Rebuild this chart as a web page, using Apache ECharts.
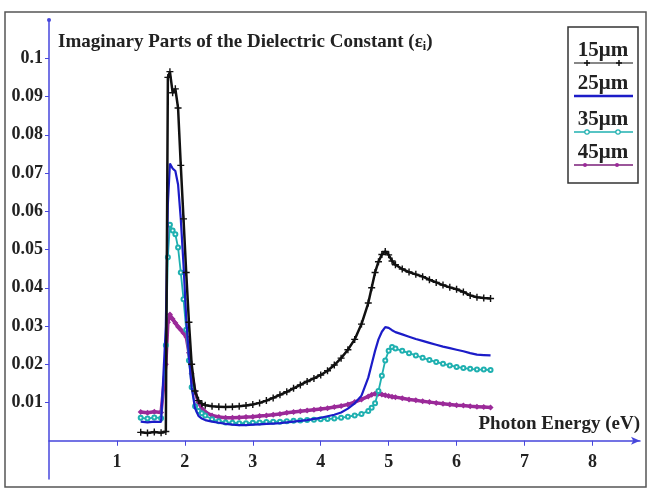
<!DOCTYPE html>
<html>
<head>
<meta charset="utf-8">
<script src="https://cdn.jsdelivr.net/npm/echarts@6/dist/echarts.min.js"></script>
<style>
  html, body { margin: 0; padding: 0; background: #fff; }
  #chart { width: 650px; height: 489px; }
</style>
</head>
<body>
<div id="chart"></div>
<script>
// photon energy (eV), shared by all four films
var energy = [1.35, 1.45, 1.55, 1.65, 1.72, 1.75, 1.78, 1.82, 1.86, 1.90, 1.94, 1.98, 2.02, 2.06, 2.10, 2.15, 2.20, 2.25, 2.30,
  2.4, 2.5, 2.6, 2.7, 2.8, 2.9, 3.0, 3.1, 3.2, 3.3, 3.4, 3.5, 3.6, 3.7, 3.8, 3.9, 4.0, 4.1, 4.2, 4.3, 4.4, 4.5, 4.6, 4.7,
  4.75, 4.8, 4.85, 4.9, 4.95, 5.0, 5.05, 5.1, 5.2, 5.3, 5.4, 5.5, 5.6, 5.7, 5.8, 5.9, 6.0, 6.1, 6.2, 6.3, 6.4, 6.5];

// imaginary part of the dielectric constant for each thickness
var eps15 = [0.0022, 0.0020, 0.0023, 0.0021, 0.0024, 0.095, 0.0965, 0.091, 0.092, 0.087, 0.072, 0.058, 0.044, 0.031, 0.020, 0.013, 0.0105, 0.0097, 0.0093,
  0.0090, 0.0089, 0.0088, 0.0089, 0.0090, 0.0092, 0.0095, 0.0099, 0.0105, 0.0112, 0.0120, 0.0128, 0.0137, 0.0146, 0.0155, 0.0163, 0.0172, 0.0183, 0.0198, 0.0216, 0.0238, 0.0265, 0.0305, 0.0360,
  0.0400, 0.0440, 0.0468, 0.0487, 0.0495, 0.0486, 0.0470, 0.0460, 0.0449, 0.0441, 0.0435, 0.0429, 0.0421, 0.0414, 0.0407, 0.0401, 0.0396, 0.0389, 0.0380, 0.0375, 0.0373, 0.0372];
var eps25 = [0.0050, 0.0048, 0.0050, 0.0049, 0.030, 0.062, 0.0725, 0.0712, 0.0705, 0.067, 0.058, 0.046, 0.032, 0.022, 0.014, 0.0085, 0.0065, 0.0058, 0.0054,
  0.0050, 0.0047, 0.0044, 0.0042, 0.0041, 0.0041, 0.0042, 0.0043, 0.0044, 0.0045, 0.0046, 0.0048, 0.0050, 0.0052, 0.0054, 0.0057, 0.0060, 0.0064, 0.0068, 0.0074, 0.0084, 0.0098, 0.0118, 0.0165,
  0.0200, 0.0235, 0.0265, 0.0285, 0.0297, 0.0295, 0.0289, 0.0284, 0.0278, 0.0272, 0.0266, 0.0261, 0.0256, 0.0251, 0.0246, 0.0242, 0.0238, 0.0234, 0.0229, 0.0225, 0.0224, 0.0223];
var eps35 = [0.0060, 0.0058, 0.0061, 0.0059, 0.025, 0.048, 0.0565, 0.0550, 0.0540, 0.0505, 0.044, 0.037, 0.029, 0.021, 0.014, 0.0090, 0.0078, 0.0072, 0.0066,
  0.0056, 0.0051, 0.0048, 0.0047, 0.0046, 0.0046, 0.0047, 0.0048, 0.0049, 0.0050, 0.0050, 0.0051, 0.0052, 0.0053, 0.0054, 0.0055, 0.0056, 0.0057, 0.0058, 0.0060, 0.0063, 0.0066, 0.0070, 0.0078,
  0.0086, 0.0098, 0.0130, 0.0170, 0.0210, 0.0235, 0.0245, 0.0241, 0.0235, 0.0229, 0.0223, 0.0217, 0.0211, 0.0206, 0.0201, 0.0197, 0.0193, 0.0190, 0.0188, 0.0186, 0.0186, 0.0185];
var eps45 = [0.0075, 0.0073, 0.0076, 0.0074, 0.020, 0.031, 0.0330, 0.0318, 0.0308, 0.0298, 0.0290, 0.0282, 0.0272, 0.0230, 0.0175, 0.0128, 0.0100, 0.0084, 0.0075,
  0.0066, 0.0062, 0.0060, 0.0060, 0.0061, 0.0062, 0.0063, 0.0065, 0.0066, 0.0068, 0.0070, 0.0073, 0.0075, 0.0077, 0.0079, 0.0081, 0.0083, 0.0085, 0.0088, 0.0091, 0.0095, 0.0101, 0.0108, 0.0116,
  0.0120, 0.0123, 0.0123, 0.0121, 0.0119, 0.0117, 0.0115, 0.0114, 0.0111, 0.0108, 0.0106, 0.0103, 0.0101, 0.0099, 0.0097, 0.0095, 0.0093, 0.0092, 0.0090, 0.0089, 0.0088, 0.0087];

var seriesNames = ['15μm', '25μm', '35μm', '45μm'];
var xTicks = [1, 2, 3, 4, 5, 6, 7, 8];
var yTicks = [0.01, 0.02, 0.03, 0.04, 0.05, 0.06, 0.07, 0.08, 0.09, 0.1];

var serif = '"Liberation Serif", "DejaVu Serif", serif';
var axisBlue = '#4646dc';
var starPath = 'path://M4,0H6V4H10V6H6V10H4V6H0V4H4Z';

// grid geometry: y runs from -0.01 to 0.11, x axis sits on y = 0
var gridTop = 20, gridBottom = 10, yMin = -0.01, yMax = 0.11;
var plotH = 489 - gridTop - gridBottom;
var zeroShift = plotH * (0 - yMin) / (yMax - yMin);

function pairs(vals) {
  return energy.map(function (e, i) { return [e, vals[i]]; });
}

// small legend helpers (legend is drawn as a boxed column like the original)
function legendText(txt, y) {
  return { type: 'text', x: 35, y: y, style: { text: txt, align: 'center', verticalAlign: 'bottom', font: 'bold 21px ' + serif, fill: '#222' } };
}
function legendLine(y, color, w) {
  return { type: 'line', shape: { x1: 6, y1: y, x2: 65, y2: y }, style: { stroke: color, lineWidth: w } };
}
function plusMark(x, y, color) {
  return [
    { type: 'line', shape: { x1: x - 3, y1: y, x2: x + 3, y2: y }, style: { stroke: color, lineWidth: 1.5 } },
    { type: 'line', shape: { x1: x, y1: y - 3, x2: x, y2: y + 3 }, style: { stroke: color, lineWidth: 1.5 } }
  ];
}

var legendItems = [
  { type: 'rect', shape: { x: 0, y: 0, width: 70, height: 156 }, style: { fill: '#fff', stroke: '#333', lineWidth: 1.5 } },
  legendText(seriesNames[0], 34),
  legendLine(36, '#111', 1.2),
  legendText(seriesNames[1], 67),
  legendLine(69, '#1c1cc8', 2.5),
  legendText(seriesNames[2], 103),
  legendLine(105, '#1fb0b0', 1.5),
  { type: 'circle', shape: { cx: 19, cy: 105, r: 2.2 }, style: { fill: '#fff', stroke: '#1fb0b0', lineWidth: 1.2 } },
  { type: 'circle', shape: { cx: 50, cy: 105, r: 2.2 }, style: { fill: '#fff', stroke: '#1fb0b0', lineWidth: 1.2 } },
  legendText(seriesNames[3], 136),
  legendLine(138, '#7a1e78', 1.5),
  { type: 'circle', shape: { cx: 17, cy: 138, r: 2 }, style: { fill: '#9b2a99' } },
  { type: 'circle', shape: { cx: 49, cy: 138, r: 2 }, style: { fill: '#9b2a99' } }
].concat(plusMark(19, 36, '#111'), plusMark(51, 36, '#111'));

var chart = echarts.init(document.getElementById('chart'));

var option = {
  backgroundColor: '#fff',
  animation: false,
  grid: { left: 49, right: 10, top: gridTop, bottom: gridBottom, outerBoundsMode: 'none' },
  xAxis: {
    type: 'value',
    min: 0,
    max: 8.7,
    // lift the axis (with its labels) up onto y = 0
    offset: -zeroShift,
    splitLine: { show: false },
    axisLine: {
      onZero: false,
      lineStyle: { color: axisBlue, width: 1.5 },
      symbol: ['none', 'arrow'],
      symbolSize: [6, 9]
    },
    axisTick: { customValues: xTicks, length: 5, lineStyle: { color: axisBlue } },
    axisLabel: {
      customValues: xTicks,
      margin: 13,
      color: '#222',
      fontFamily: serif,
      fontWeight: 'bold',
      fontSize: 18
    },
    name: 'Photon Energy (eV)',
    nameLocation: 'end',
    nameGap: 0,
    nameTextStyle: {
      align: 'right',
      verticalAlign: 'bottom',
      padding: [0, 0, 7, 0],
      color: '#222',
      fontFamily: serif,
      fontWeight: 'bold',
      fontSize: 19
    }
  },
  yAxis: {
    type: 'value',
    min: yMin,
    max: yMax,
    splitLine: { show: false },
    axisLine: {
      lineStyle: { color: axisBlue, width: 1.5 },
      symbol: ['none', 'circle'],
      symbolSize: [4, 4]
    },
    axisTick: { customValues: yTicks, length: 4, lineStyle: { color: axisBlue } },
    axisLabel: {
      customValues: yTicks,
      margin: 6,
      color: '#222',
      fontFamily: serif,
      fontWeight: 'bold',
      fontSize: 18,
      formatter: function (v) { return String(+v.toFixed(2)); }
    }
  },
  graphic: [
    {
      type: 'rect',
      shape: { x: 5, y: 12, width: 641, height: 475 },
      style: { fill: 'none', stroke: '#555', lineWidth: 1.5 },
      silent: true,
      z: -1
    },
    {
      type: 'text',
      x: 58,
      y: 32,
      style: {
        text: '{a|Imaginary Parts of the Dielectric Constant (ε}{s|i}{a|)}',
        rich: {
          a: { fontFamily: serif, fontWeight: 'bold', fontSize: 19, fill: '#222' },
          s: { fontFamily: serif, fontWeight: 'bold', fontSize: 12, fill: '#222', padding: [9, 0, 0, 0] }
        }
      }
    },
    {
      type: 'group',
      x: 568,
      y: 27,
      children: legendItems
    }
  ],
  series: [
    {
      name: seriesNames[3],
      type: 'line',
      data: pairs(eps45),
      symbol: 'diamond',
      symbolSize: 6,
      itemStyle: { color: '#9b2a99' },
      lineStyle: { color: '#9b2a99', width: 3.5 },
      z: 2
    },
    {
      name: seriesNames[2],
      type: 'line',
      data: pairs(eps35),
      symbol: 'emptyCircle',
      symbolSize: 4,
      itemStyle: { color: '#1fb0b0', borderWidth: 1.2 },
      lineStyle: { color: '#1fb0b0', width: 1.8 },
      z: 3
    },
    {
      name: seriesNames[1],
      type: 'line',
      data: pairs(eps25),
      showSymbol: false,
      lineStyle: { color: '#1c1cc8', width: 2.2 },
      z: 4
    },
    {
      name: seriesNames[0],
      type: 'line',
      data: pairs(eps15),
      symbol: starPath,
      symbolSize: 7,
      itemStyle: { color: '#111' },
      lineStyle: { color: '#111', width: 2.5 },
      z: 5
    }
  ]
};

chart.setOption(option);
</script>
</body>
</html>
